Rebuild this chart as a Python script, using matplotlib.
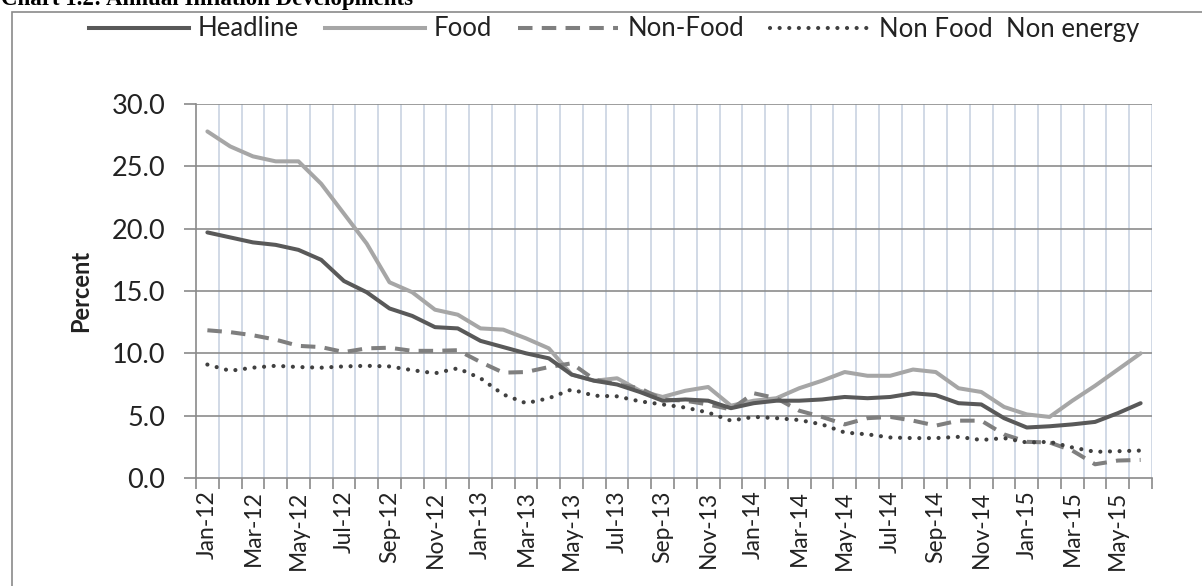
import matplotlib
matplotlib.use("Agg")
import matplotlib.pyplot as plt
from matplotlib.patches import Rectangle
from matplotlib.lines import Line2D

months = ["Jan-12","Feb-12","Mar-12","Apr-12","May-12","Jun-12","Jul-12","Aug-12","Sep-12","Oct-12","Nov-12","Dec-12",
          "Jan-13","Feb-13","Mar-13","Apr-13","May-13","Jun-13","Jul-13","Aug-13","Sep-13","Oct-13","Nov-13","Dec-13",
          "Jan-14","Feb-14","Mar-14","Apr-14","May-14","Jun-14","Jul-14","Aug-14","Sep-14","Oct-14","Nov-14","Dec-14",
          "Jan-15","Feb-15","Mar-15","Apr-15","May-15","Jun-15"]

headline = [19.7, 19.3, 18.9, 18.7, 18.3, 17.5, 15.8, 14.9, 13.6, 13.0, 12.1, 12.0,
            11.0, 10.5, 10.0, 9.6, 8.3, 7.8, 7.5, 6.9, 6.2, 6.3, 6.2, 5.6,
            6.0, 6.2, 6.2, 6.3, 6.5, 6.4, 6.5, 6.8, 6.65, 6.0, 5.9, 4.8,
            4.05, 4.15, 4.3, 4.5, 5.2, 6.0]
food = [27.8, 26.6, 25.8, 25.4, 25.4, 23.6, 21.2, 18.8, 15.7, 14.9, 13.5, 13.1,
        12.0, 11.9, 11.2, 10.4, 8.3, 7.8, 8.0, 7.0, 6.5, 7.0, 7.3, 5.8,
        6.2, 6.4, 7.2, 7.8, 8.5, 8.2, 8.2, 8.7, 8.5, 7.2, 6.9, 5.7,
        5.1, 4.9, 6.2, 7.4, 8.7, 10.0]
non_food = [11.85, 11.7, 11.45, 11.1, 10.6, 10.5, 10.1, 10.4, 10.45, 10.2, 10.2, 10.25,
            9.3, 8.45, 8.5, 8.9, 9.2, 7.9, 7.5, 7.2, 6.3, 6.2, 5.9, 5.5,
            6.8, 6.4, 5.4, 4.9, 4.3, 4.8, 4.9, 4.6, 4.2, 4.6, 4.6, 3.5,
            2.9, 2.85, 2.2, 1.1, 1.4, 1.45]
non_food_non_energy = [9.1, 8.6, 8.85, 9.0, 8.9, 8.85, 8.95, 9.0, 8.95, 8.65, 8.4, 8.8,
                       8.0, 6.7, 6.0, 6.4, 7.1, 6.6, 6.55, 6.15, 5.9, 5.65, 5.25, 4.6,
                       4.9, 4.8, 4.65, 4.3, 3.65, 3.5, 3.25, 3.2, 3.2, 3.3, 3.05, 3.2,
                       2.85, 2.9, 2.45, 2.1, 2.15, 2.2]
series_names = ["Headline", "Food", "Non-Food", "Non Food  Non energy"]
yticks = [0, 5, 10, 15, 20, 25, 30]

FONT = "Lato"
W, H = 1202, 586
fig = plt.figure(figsize=(W/100, H/100), dpi=100)
fig.patch.set_facecolor("white")

# outer frame (cut off at right and bottom)
fig.patches.append(Rectangle((12/W, -0.05), 1.2, 1.05 - 12/H, transform=fig.transFigure,
                             fill=False, edgecolor="#8a8a8a", linewidth=1.2, zorder=0))
fig.text(1/W, 1 - 5/H, "Chart 1.2: Annual Inflation Developments", family="Liberation Serif",
         weight="bold", fontsize=16.5, ha="left", va="baseline", color="black")

ax = fig.add_axes([196/W, 108/H, (1152-196)/W, (482-108)/H])
x = list(range(len(months)))

ax.set_xlim(-0.5, len(months) - 0.5)
ax.set_ylim(0, 30)

# gridlines
for k in range(1, len(months) + 1):
    ax.axvline(k - 0.5, color="#c9d3e2", lw=1.2, zorder=1)
for v in yticks[1:]:
    ax.axhline(v, color="#8c8c8c", lw=1.2, zorder=1)

DOT = (0, (0.01, 2.3))
DASH = (0, (3.6, 2.3))
ax.plot(x, headline, color="#595959", lw=2.9, solid_joinstyle="round", solid_capstyle="round", zorder=4)
ax.plot(x, food, color="#a6a6a6", lw=2.9, solid_joinstyle="round", solid_capstyle="round", zorder=3)
ax.plot(x, non_food, color="#7f7f7f", lw=2.9, linestyle=DASH, zorder=3)
ax.plot(x, non_food_non_energy, color="#404040", lw=3.0, linestyle=DOT,
        dash_capstyle="round", zorder=3)

for s in ["top", "right"]:
    ax.spines[s].set_visible(False)
for s in ["left", "bottom"]:
    ax.spines[s].set_color("#8a8a8a")
    ax.spines[s].set_linewidth(1.2)

ax.set_yticks(yticks)
ax.set_yticklabels([f"{v:.1f}" for v in yticks], family=FONT, fontsize=19.5, color="#222222")
ax.tick_params(axis="y", length=9, width=1.2, color="#8a8a8a", pad=13)

ax.set_xticks(x[::2])
ax.set_xticklabels(months[::2], rotation=90, family=FONT, fontsize=16.5, color="#222222")
ax.set_xticks([k - 0.5 for k in range(len(months) + 1)], minor=True)
ax.tick_params(axis="x", which="major", length=0, pad=9)
ax.tick_params(axis="x", which="minor", length=8, width=1.2, color="#8a8a8a")

ax.set_ylabel("Percent", family=FONT, fontsize=17, weight="bold", color="#222222", labelpad=14)

handles = [
    Line2D([], [], color="#595959", lw=2.9),
    Line2D([], [], color="#a6a6a6", lw=2.9),
    Line2D([], [], color="#7f7f7f", lw=2.9, linestyle=DASH),
    Line2D([], [], color="#404040", lw=3.0, linestyle=DOT, dash_capstyle="round"),
]
leg = fig.legend(handles, series_names, loc="center", bbox_to_anchor=(614/W, 1 - 29/H), ncol=4,
                 frameon=False, prop={"family": FONT, "size": 18.5}, handlelength=3.9,
                 handletextpad=0.35, columnspacing=1.0, borderaxespad=0)
for t in leg.get_texts():
    t.set_color("#222222")

fig.savefig("out.png", dpi=100, facecolor="white")
